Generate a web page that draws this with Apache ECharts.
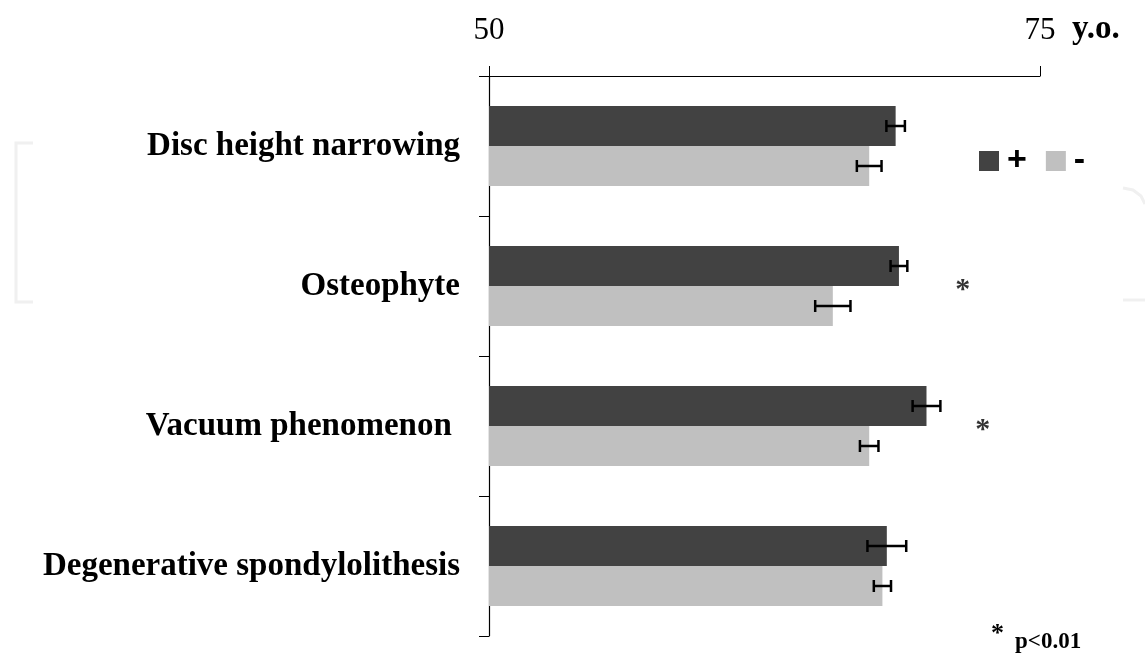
<!DOCTYPE html>
<html>
<head>
<meta charset="utf-8">
<script src="https://cdn.jsdelivr.net/npm/echarts@6/dist/echarts.min.js"></script>
<style>
  html, body { margin: 0; padding: 0; background: #fff; }
  #main { width: 1145px; height: 653px; }
</style>
</head>
<body>
<div id="main"></div>
<script>
// categories, top to bottom
var categories = ["Disc height narrowing", "Osteophyte", "Vacuum phenomenon ", "Degenerative spondylolithesis"];
// mean age (y.o.) with finding (+) and without (-)
var plusValues = [68.45, 68.6, 69.85, 68.05];
var minusValues = [67.25, 65.6, 67.25, 67.85];
// error bar half widths
var plusErrors = [0.42, 0.38, 0.63, 0.88];
var minusErrors = [0.56, 0.8, 0.42, 0.39];
// significance markers (x position in y.o., category index)
var sigMarks = [[71.5, 1], [72.4, 2]];
var xTicks = [50, 75];

var myChart = echarts.init(document.getElementById("main"));

// 误差线
function errorSeries(values, errors, offset) {
  var data = [];
  for (var i = 0; i < values.length; i++) {
    data.push([values[i] - errors[i], i, values[i] + errors[i]]);
  }
  return {
    type: "custom",
    data: data,
    z: 10,
    renderItem: function (params, api) {
      var lo = api.coord([api.value(0), api.value(1)]);
      var hi = api.coord([api.value(2), api.value(1)]);
      var y = lo[1] + offset;
      var cap = 6;
      var style = { stroke: "#000", lineWidth: 2.5 };
      return {
        type: "group",
        children: [
          { type: "line", shape: { x1: lo[0], y1: y, x2: hi[0], y2: y }, style: style },
          { type: "line", shape: { x1: lo[0], y1: y - cap, x2: lo[0], y2: y + cap }, style: style },
          { type: "line", shape: { x1: hi[0], y1: y - cap, x2: hi[0], y2: y + cap }, style: style },
        ],
      };
    },
  };
}

myChart.setOption({
  animation: false,
  backgroundColor: "#fff",
  grid: { left: 489, right: 105, top: 76, bottom: 17 },
  legend: {
    data: ["+", "-"],
    left: 974,
    top: 139,
    icon: "rect",
    itemWidth: 20,
    itemHeight: 20,
    itemGap: 19,
    textStyle: {
      fontFamily: "Liberation Sans",
      fontSize: 34,
      fontWeight: "bold",
      color: "#000",
      padding: [0, 0, 0, 3],
    },
  },
  xAxis: {
    type: "value",
    position: "top",
    min: xTicks[0],
    max: xTicks[1],
    interval: xTicks[1] - xTicks[0],
    splitLine: { show: false },
    axisLine: { show: true, lineStyle: { color: "#000", width: 1.2 } },
    axisTick: { show: true, length: 10, lineStyle: { color: "#000" } },
    axisLabel: {
      margin: 30,
      fontFamily: "Liberation Serif",
      fontSize: 31,
      color: "#000",
    },
  },
  yAxis: {
    type: "category",
    inverse: true,
    data: categories,
    axisLine: { show: true, lineStyle: { color: "#000", width: 1.2 } },
    axisTick: { show: true, length: 10, lineStyle: { color: "#000" } },
    axisLabel: {
      margin: 29,
      fontFamily: "Liberation Serif",
      fontSize: 33,
      fontWeight: "bold",
      color: "#000",
    },
  },
  series: [
    {
      name: "+",
      type: "bar",
      data: plusValues,
      barWidth: 40,
      barGap: "0%",
      itemStyle: { color: "#424242" },
    },
    {
      name: "-",
      type: "bar",
      data: minusValues,
      barWidth: 40,
      barGap: "0%",
      itemStyle: { color: "#c0c0c0" },
    },
    errorSeries(plusValues, plusErrors, -20),
    errorSeries(minusValues, minusErrors, 20),
    {
      type: "scatter",
      data: sigMarks,
      symbolSize: 0,
      label: {
        show: true,
        position: "inside",
        formatter: "*",
        fontFamily: "Liberation Serif",
        fontSize: 30,
        fontWeight: "bold",
        color: "#000",
        offset: [0, 4],
      },
    },
  ],
  graphic: [
    {
      type: "text",
      left: 1072,
      top: 13,
      style: { text: "y.o.", font: "bold 33px 'Liberation Serif'", fill: "#000" },
    },
    {
      type: "text",
      left: 991,
      top: 621,
      style: { text: "*", font: "bold 26px 'Liberation Serif'", fill: "#000" },
    },
    {
      type: "text",
      left: 1015,
      top: 631,
      style: { text: "p<0.01", font: "bold 23px 'Liberation Serif'", fill: "#000" },
    },
    {
      type: "polyline",
      shape: { points: [[33, 143], [16, 143], [16, 302], [33, 302]] },
      style: { stroke: "#f0f0f0", lineWidth: 3, fill: null },
      silent: true,
    },
    {
      type: "polyline",
      shape: { points: [[1123, 188], [1133, 190], [1141, 196], [1145, 204]] },
      style: { stroke: "#f0f0f0", lineWidth: 3, fill: null },
      silent: true,
    },
    {
      type: "polyline",
      shape: { points: [[1123, 300], [1145, 300]] },
      style: { stroke: "#f0f0f0", lineWidth: 3, fill: null },
      silent: true,
    },
  ],
});
</script>
</body>
</html>
